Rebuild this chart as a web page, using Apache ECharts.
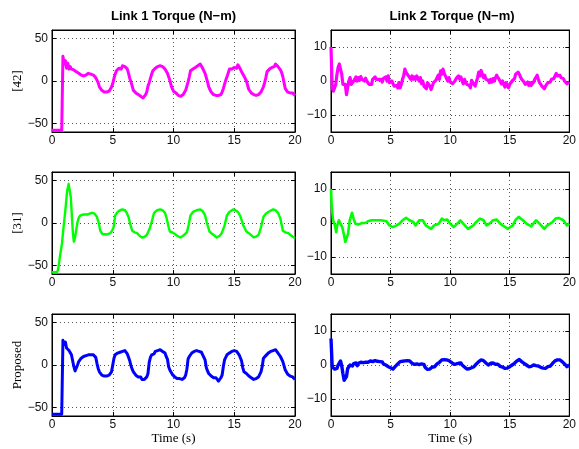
<!DOCTYPE html>
<html>
<head>
<meta charset="utf-8">
<script src="https://cdn.jsdelivr.net/npm/echarts@6/dist/echarts.min.js"></script>
<style>
html,body{margin:0;padding:0;background:#fff;}
#chart{width:579px;height:449px;}
</style>
</head>
<body>
<div id="chart"></div>
<script>
// ---- Data ----
const columnTitles = ['Link 1 Torque (N\u2212m)', 'Link 2 Torque (N\u2212m)'];
const rowNames = ['[42]', '[31]', 'Proposed'];
const xLabel = 'Time (s)';
const xTicks = [0, 5, 10, 15, 20];
const link1Ticks = [-50, 0, 50];
const link2Ticks = [-10, 0, 10];
const link1Range = [-60, 60];
const link2Range = [-15, 15];
const seriesColors = ['#ff00ff', '#00ff00', '#0000ff'];

// sampling instants (s) for the densely sampled traces
const time = Array.from({length: 201}, (_, i) => Math.round(i) / 10);

// [42] link 1 torque, sampled every 0.1 s
const ref42Link1 = [
 -58,-58,-58,-58,-58,-58,-58,-58,-58,29,
 20,24,15,21,14,17,14,15,13,13,
 11,12,9,10,7,8,6,7,7,8,
 9,9,8,7,7,6,4,2,-2,-7,
 -9,-11,-12,-13,-14,-13,-12,-12,-10,-7,
 -3,3,8,12,10,15,17,14,18,19,
 17,15,14,9,3,-1,-6,-11,-12,-14,
 -15,-16,-17,-18,-17,-20,-19,-16,-13,-6,
 -2,3,8,12,11,15,15,17,16,18,
 18,17,15,14,12,9,5,1,-5,-9,
 -12,-13,-14,-16,-17,-15,-18,-17,-16,-14,
 -11,-6,-1,5,12,12,14,15,16,17,
 18,16,20,19,15,12,9,4,-1,-7,
 -10,-13,-14,-16,-17,-17,-18,-17,-19,-16,
 -13,-9,-4,1,5,9,14,15,14,16,
 16,17,15,19,18,14,11,9,6,3,
 0,-5,-10,-12,-14,-15,-16,-17,-17,-18,
 -16,-15,-13,-11,-7,-2,4,11,12,14,
 15,16,18,17,20,19,17,15,13,10,
 5,-2,-9,-11,-13,-12,-14,-15,-14,-16,
 -17
];

// [42] link 2 torque, sampled every 0.1 s
const ref42Link2 = [
 10,-2,-3,-3,-1,2,4,5,5,2,
 -1,-1,-1,-4,-2,0,1,-1,-1,0,
 0,1.2,0,1,0.2,1.3,0.5,1,0,0.8,
 0,-0.5,-1,-0.5,-1,0.5,0,1.2,0.5,0.8,
 0.5,0,0.5,-0.3,0.8,0.5,1.2,0,1.5,-0.5,
 -1,0,-0.5,-1.5,-1,-1.3,-2,-0.5,-2,-1,
 0.5,1.5,3.5,2.5,3,1.5,1,0.5,1.5,0.5,
 1.2,0.5,1.5,0.7,0,1,-0.8,0,-1.5,-1,
 -2.3,-0.5,-0.3,-1.5,-2.5,-2.3,-0.5,-1,0.2,1,
 1.7,0.5,3,2,3.5,2.2,1.5,0.7,0,1,
 -0.3,0,-0.8,-1.2,0,0.7,0.3,1.5,0.5,1.2,
 0,-0.8,0.5,-0.3,-1,-0.5,-1.3,-2,0.2,-0.5,
 -1,-1.5,-1.3,1,2.6,1.5,3.1,2,1,1.7,
 0.5,1,0.2,-0.5,0.5,-0.3,0.7,0,1,1.7,
 1.7,0.5,0.5,-0.8,0,-1,-1.8,-0.5,-1.3,-2,
 -1,-0.8,0,0.5,0.7,2,1.5,2.6,2,1.2,
 0.5,0,-0.3,-1,-0.8,-0.3,-1.3,-0.5,-1.3,-1,
 -0.3,0.5,1,1.7,0.5,-0.5,-0.8,-1.5,-1,-2.3,
 -1.5,-1.3,-0.5,-1,-0.3,0.5,0,0.7,1.5,2.2,
 1.5,2,1.7,1,0.5,0.7,0,-0.5,-0.8,-0.3,
 -0.3
];

// [31] link 1 torque, [time, value] points
const ref31Link1 = [
 [0,-58],[0.4,-58],[0.5,-55],[0.6,-45],[0.7,-35],[0.82,-24],[0.95,-5],[1.1,15],[1.25,38],[1.37,46],
 [1.45,44],[1.55,30],[1.64,7],[1.72,-12],[1.8,-22],[1.9,-17],[2.0,-8],[2.1,1],[2.2,6],[2.33,9],
 [2.6,10],[2.9,10],[3.1,11],[3.3,12],[3.5,11],[3.7,7],[3.85,0],[3.97,-9],[4.15,-13],[4.3,-14],
 [4.55,-13.5],[4.8,-12],[4.95,-9],[5.07,-5],[5.2,9],[5.4,13],[5.6,15],[5.8,16],[6.0,15],[6.15,12],
 [6.3,7],[6.45,-2],[6.6,-9],[6.8,-11],[7.0,-12],[7.2,-15],[7.4,-17],[7.6,-16.5],[7.8,-14],[8.0,-8],
 [8.2,1],[8.4,12],[8.65,15],[8.9,16],[9.1,15],[9.3,12],[9.45,5],[9.6,-5],[9.7,-10],[9.9,-11],
 [10.05,-12],[10.3,-15],[10.55,-17],[10.8,-15],[11.1,-11],[11.25,-2],[11.4,9],[11.6,13],[11.9,15],[12.2,16],
 [12.4,14],[12.6,9],[12.75,0],[12.96,-10],[13.2,-13],[13.56,-17],[13.8,-15],[13.97,-12],[14.2,-3],[14.4,9],
 [14.6,13],[14.9,16],[15.1,15],[15.3,13],[15.5,8],[15.75,-3],[16.0,-10],[16.2,-12],[16.6,-17],[16.8,-16],
 [17.0,-14],[17.2,-5],[17.4,7],[17.6,11],[17.8,13],[18.2,16],[18.4,15],[18.6,12],[18.8,5],[19.0,-9],
 [19.2,-11],[19.45,-12],[19.7,-15],[19.86,-17],[20,-18]
];

// [31] link 2 torque, [time, value] points
const ref31Link2 = [
 [0,10],[0.05,5.7],[0.17,0.8],[0.33,-0.7],[0.44,-2.7],[0.52,-0.7],[0.66,0.8],[0.8,0.3],[0.94,-1.2],[1.07,-3.2],
 [1.2,-5.6],[1.3,-6.1],[1.43,-3.2],[1.57,0.8],[1.76,3],[1.9,1.3],[2.04,-0.2],[2.3,-0.4],[2.6,0],[2.9,0],
 [3.1,0.5],[3.4,0.8],[3.8,0.8],[4.2,0.8],[4.65,0.5],[4.9,-0.7],[5.2,-1.2],[5.5,-0.7],[5.75,-0.2],[6.0,0.8],
 [6.3,1.5],[6.6,0.8],[6.9,0.3],[7.1,-0.7],[7.4,0.8],[7.7,0.8],[7.95,-0.7],[8.4,-1.7],[8.65,-0.7],[9.05,-0.2],
 [9.3,1.3],[9.5,0.8],[9.75,1.0],[10.0,-0.2],[10.3,-1.2],[10.6,-0.2],[10.85,0.8],[11.1,-0.2],[11.5,-1.7],[11.95,-0.7],
 [12.2,0.3],[12.5,1.3],[12.8,0.8],[13.05,-0.7],[13.3,-0.2],[13.6,0.8],[13.9,1.0],[14.2,-0.2],[14.4,-0.7],[14.85,-1.7],
 [15.25,-0.7],[15.5,1.0],[15.75,1.8],[16.1,0.8],[16.4,-0.2],[16.8,-1.0],[17.2,0.8],[17.5,-0.2],[17.9,-1.7],[18.15,-0.7],
 [18.6,0.3],[18.85,1.3],[19.1,1.5],[19.5,0.8],[19.8,-0.7],[20,-0.2]
];

// Proposed link 1 torque, sampled every 0.1 s
const propLink1 = [
 -58,-58,-58,-58,-58,-58,-58,-58,-58,29,
 24,27,20,22,17,15,12,5,-2,-7,
 -5,0,4,6,8,8,10,10,11,11,
 12,11,12,11,12,10,9,2,-4,-8,
 -10,-12,-11,-13,-14,-13,-13,-12,-10,-8,
 0,8,12,11,14,15,15,17,16,18,
 17,15,13,9,5,-1,-5,-8,-10,-12,
 -12,-14,-15,-14,-17,-16,-17,-15,-14,-10,
 3,9,12,14,13,16,16,17,16,18,
 17,16,15,14,10,7,-2,-6,-8,-11,
 -12,-14,-13,-16,-17,-16,-18,-17,-17,-15,
 -12,-5,7,10,12,14,15,16,16,17,
 17,16,16,15,12,10,6,-3,-7,-10,
 -12,-13,-14,-15,-16,-15,-17,-19,-17,-15,
 -12,-2,6,9,12,14,14,15,16,16,
 17,16,16,15,12,10,5,-3,-8,-10,
 -10,-12,-13,-14,-15,-16,-17,-18,-16,-15,
 -14,-11,-8,-2,8,10,11,12,14,15,
 16,16,17,17,18,16,14,12,10,8,
 4,-1,-6,-8,-11,-12,-13,-15,-14,-15,
 -17
];

// Proposed link 2 torque, sampled every 0.1 s
const propLink2 = [
 7.8,-0.5,-1,-1.2,-0.8,-1,0,0.5,1.2,-0.2,
 -2.5,-4.5,-5,-3.4,-1,-0.5,0,0.5,-0.3,0.4,
 0,0.6,-0.2,0.5,0.2,0.8,0.3,0.7,0.2,0.8,
 0.5,0.8,0.4,1.2,0.8,1,0.7,1.3,0.8,1.1,
 0.7,1,0.6,0.9,0.3,0.5,0,0.2,-0.5,-0.3,
 -0.8,-0.6,-1.2,-0.9,-0.4,0,0.3,0.8,1,1.3,
 1.1,1.5,1.2,1.7,1.3,1.5,1.2,0.9,0.5,0.4,
 0.2,0,0.3,-0.2,0.1,0.6,0.3,0.8,0.2,-0.7,
 -1,-1.3,-0.9,-1.2,-0.8,-0.6,-0.3,-0.5,0,0.3,
 0.5,0.8,1.2,1.5,1.2,1.6,1.3,1.5,1.1,1.3,
 1,0.8,0.5,0.2,0,0.3,0,0.5,0.3,0.6,
 0,-0.3,-0.6,-1,-1.2,-0.9,-1.1,-0.7,-0.8,-0.4,
 -0.5,0,0.3,0.7,1,1.3,1.5,1.2,1.3,1,
 0.6,0.3,0,0.2,0.5,0.3,0.6,0.4,0.2,0,
 0.2,0,-0.4,-0.2,-0.6,-0.8,-1,-0.7,-0.9,-0.5,
 -0.5,-0.2,0,0.3,0.5,0.8,1.2,1.4,1.6,1.3,
 1,0.8,0.5,0.3,0,-0.3,-0.5,-0.2,-0.4,0,
 0,0.2,-0.2,0,-0.3,-0.5,-0.7,-0.5,-0.9,-1.2,
 -1,-0.8,-0.5,-0.6,-0.3,0.2,0.5,1,1.2,1.4,
 1.5,1.3,1.5,1.2,1,0.7,0.3,-0.2,-0.5,-0.3,
 0
];

// ---- Chart construction ----
function pairs(vals) { return vals.map((v, i) => [time[i], v]); }

const panels = [
  {data: pairs(ref42Link1), col: 0, row: 0, width: 3},
  {data: pairs(ref42Link2), col: 1, row: 0, width: 3.2},
  {data: ref31Link1,        col: 0, row: 1, width: 2.4},
  {data: ref31Link2,        col: 1, row: 1, width: 2.6},
  {data: pairs(propLink1),  col: 0, row: 2, width: 3},
  {data: pairs(propLink2),  col: 1, row: 2, width: 3.4}
];

const colLeft = [52, 331];
const colWidth = [243, 242];
const rowTop = [30, 172, 314];
const rowHeight = 102;

const tickFont = {fontFamily: '"Liberation Sans", Arial, sans-serif', fontSize: 12, color: '#111'};
const serifFont = {fontFamily: '"Liberation Serif", "Times New Roman", serif', fontSize: 13, color: '#000'};
const dotted = {type: [1, 3], color: '#555', width: 1};
const minusFmt = v => String(v).replace('-', '\u2212');

const grids = [], xAxes = [], yAxes = [], series = [];
panels.forEach((p, i) => {
  grids.push({left: colLeft[p.col], top: rowTop[p.row], width: colWidth[p.col], height: rowHeight,
              show: true, borderColor: '#000', borderWidth: 1, backgroundColor: 'transparent'});
  const isBottom = p.row === 2;
  ['bottom', 'top'].forEach(pos => {
    xAxes.push({
      type: 'value', gridIndex: i, position: pos, min: xTicks[0], max: xTicks[xTicks.length - 1], interval: 5,
      name: (pos === 'bottom' && isBottom) ? xLabel : '', nameLocation: 'middle', nameGap: 16,
      nameTextStyle: serifFont,
      axisLine: {show: true, onZero: false, lineStyle: {color: '#000', width: 1}},
      axisTick: {show: true, inside: true, length: 4, lineStyle: {color: '#000'}},
      axisLabel: Object.assign({show: pos === 'bottom', margin: 3}, tickFont),
      splitLine: {show: pos === 'bottom', lineStyle: dotted}
    });
  });
  const range = p.col === 0 ? link1Range : link2Range;
  const ticks = p.col === 0 ? link1Ticks : link2Ticks;
  ['left', 'right'].forEach(pos => {
    yAxes.push({
      type: 'value', gridIndex: i, position: pos, min: range[0], max: range[1],
      name: (pos === 'left' && p.col === 0) ? rowNames[p.row] : '', nameLocation: 'middle', nameGap: 28,
      nameRotate: 90, nameTextStyle: serifFont,
      axisLine: {show: true, onZero: false, lineStyle: {color: '#000', width: 1}},
      axisTick: {show: true, inside: true, length: 4, lineStyle: {color: '#000'}, customValues: ticks},
      axisLabel: Object.assign({show: pos === 'left', margin: 4, customValues: ticks, formatter: minusFmt}, tickFont),
      splitLine: {show: pos === 'left', lineStyle: dotted}
    });
  });
  series.push({
    type: 'line', xAxisIndex: 2 * i, yAxisIndex: 2 * i, data: p.data,
    showSymbol: false, symbol: 'none', clip: true,
    lineStyle: {color: seriesColors[p.row], width: p.width, join: 'round'},
    itemStyle: {color: seriesColors[p.row]}
  });
});

const chart = echarts.init(document.getElementById('chart'), null, {renderer: 'canvas'});
chart.setOption({
  animation: false,
  backgroundColor: '#fff',
  grid: grids,
  xAxis: xAxes,
  yAxis: yAxes,
  series: series,
  graphic: columnTitles.map((t, c) => ({
    type: 'text',
    x: colLeft[c] + colWidth[c] / 2, y: 16,
    style: {text: t, fontFamily: '"Liberation Sans", Arial, sans-serif', fontWeight: 'bold', fontSize: 13,
            fill: '#000', align: 'center', verticalAlign: 'middle'}
  }))
});
</script>
</body>
</html>
